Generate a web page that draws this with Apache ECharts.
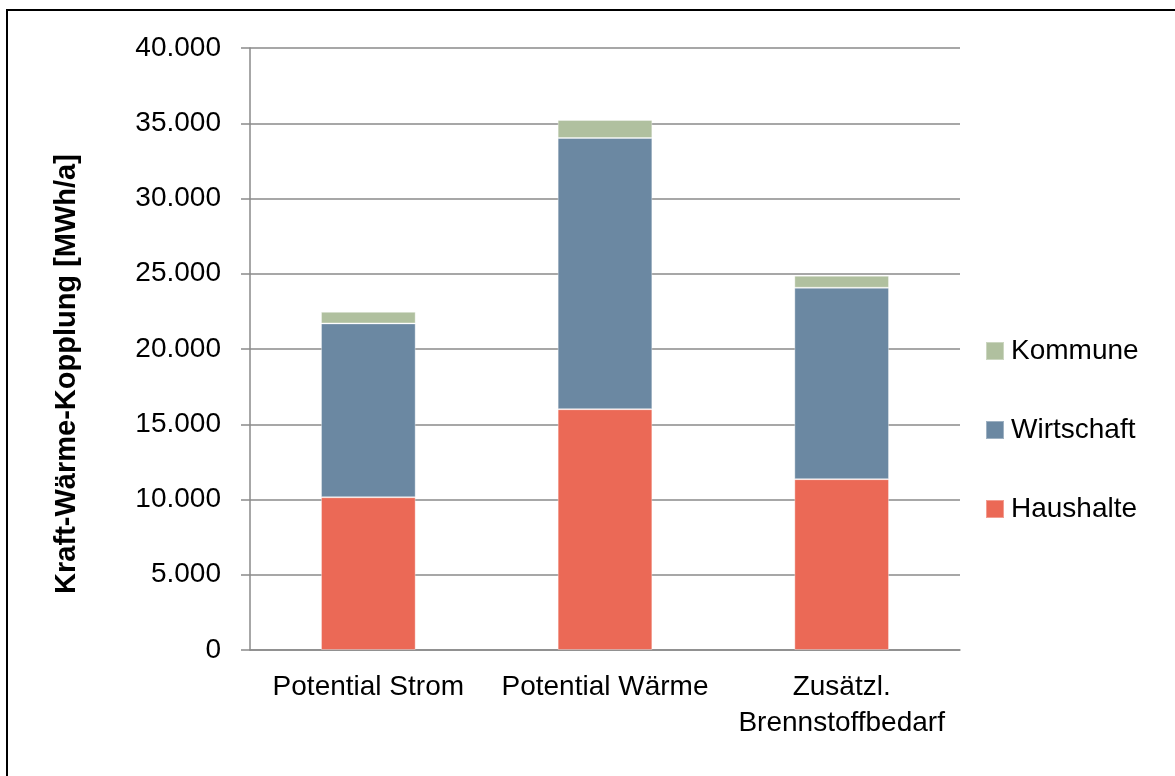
<!DOCTYPE html>
<html>
<head>
<meta charset="utf-8">
<title>Kraft-Wärme-Kopplung</title>
<script src="https://cdn.jsdelivr.net/npm/echarts@6/dist/echarts.min.js"></script>
<style>
  html, body { margin: 0; padding: 0; background: #fff; }
  #chart { width: 1175px; height: 776px; }
</style>
</head>
<body>
<div id="chart"></div>
<script>
// Categories and stacked values (MWh/a)
const categories = ['Potential Strom', 'Potential Wärme', 'Zusätzl.\nBrennstoffbedarf'];
const haushalte = [10150, 16000, 11350];
const wirtschaft = [11550, 18020, 12720];
const kommune = [770, 1200, 800];
const legendOrder = ['Kommune', 'Wirtschaft', 'Haushalte'];
const axisTitle = 'Kraft-Wärme-Kopplung [MWh/a]';

const FONT = '"Liberation Sans", Arial, sans-serif';
const GRID_COLOR = '#8a8a8a';

function thousands(v) {
  return String(v).replace(/\B(?=(\d{3})+(?!\d))/g, '.');
}

const chart = echarts.init(document.getElementById('chart'), null, { renderer: 'canvas' });

function barSeries(name, data, color) {
  return {
    name: name,
    type: 'bar',
    stack: 'total',
    data: data,
    barCategoryGap: '60%',
    itemStyle: { color: color, borderColor: 'rgba(255,255,255,0.35)', borderWidth: 1 },
    emphasis: { disabled: true }
  };
}

chart.setOption({
  animation: false,
  backgroundColor: '#ffffff',
  textStyle: { fontFamily: FONT },
  grid: { left: 250, right: 215, top: 48, bottom: 126, containLabel: false },
  legend: {
    data: legendOrder,
    orient: 'vertical',
    left: 985,
    top: 337,
    padding: 0,
    itemWidth: 18,
    itemHeight: 18,
    itemGap: 51,
    icon: 'rect',
    selectedMode: false,
    textStyle: { fontFamily: FONT, fontSize: 28, color: '#000', lineHeight: 28, padding: [0, 0, 0, 2] }
  },
  xAxis: {
    type: 'category',
    data: categories,
    axisLine: { lineStyle: { color: GRID_COLOR, width: 1.5 } },
    axisTick: { show: false },
    axisLabel: {
      color: '#000',
      fontFamily: FONT,
      fontSize: 28,
      lineHeight: 36,
      margin: 19,
      interval: 0
    }
  },
  yAxis: {
    type: 'value',
    min: 0,
    max: 40000,
    interval: 5000,
    axisLine: { show: true, lineStyle: { color: GRID_COLOR, width: 1.5 } },
    axisTick: { show: true, length: 9, lineStyle: { color: GRID_COLOR, width: 1.5 } },
    splitLine: { lineStyle: { color: GRID_COLOR, width: 1.5 } },
    axisLabel: {
      color: '#000',
      fontFamily: FONT,
      fontSize: 28,
      margin: 29,
      formatter: thousands
    }
  },
  series: [
    barSeries('Haushalte', haushalte, '#EB6956'),
    barSeries('Wirtschaft', wirtschaft, '#6B88A2'),
    barSeries('Kommune', kommune, '#B0C09F')
  ],
  graphic: [
    {
      type: 'rect',
      shape: { x: 7, y: 10, width: 1400, height: 1000 },
      style: { fill: 'none', stroke: '#000', lineWidth: 2 },
      silent: true
    },
    {
      type: 'text',
      x: 67,
      y: 374,
      rotation: Math.PI / 2,
      style: {
        text: axisTitle,
        fontFamily: FONT,
        fontSize: 29,
        fontWeight: 'bold',
        fill: '#000',
        align: 'center',
        verticalAlign: 'middle'
      },
      silent: true
    }
  ]
});
</script>
</body>
</html>
